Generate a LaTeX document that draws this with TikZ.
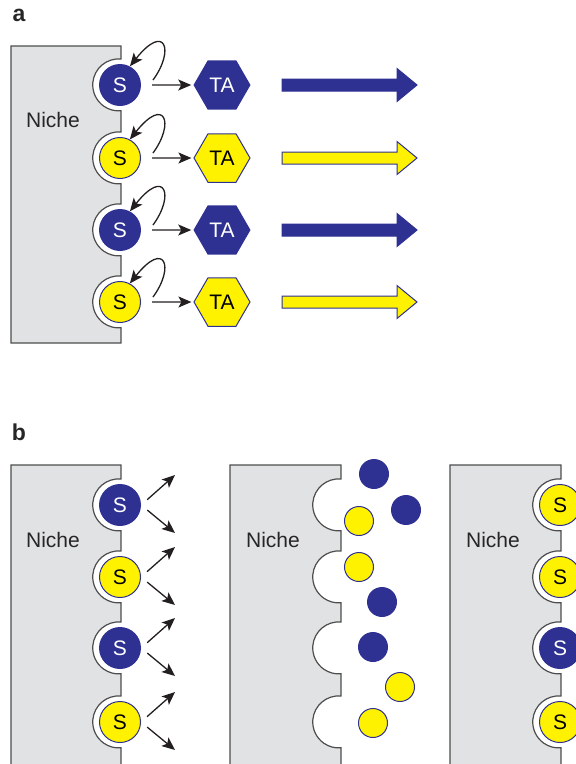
\documentclass[tikz,border=0pt]{standalone}
\usepackage{fontspec}
\setmainfont{Liberation Sans}
\usetikzlibrary{shapes.geometric,arrows.meta}
\definecolor{navy}{HTML}{2E3192}
\definecolor{cellyellow}{HTML}{FFF200}
\definecolor{nichegray}{HTML}{E1E2E4}
\definecolor{nicheline}{HTML}{4D4D4D}
\definecolor{arrowblack}{HTML}{231F20}
\newcommand\cellfont{\fontsize{21}{24}\selectfont}

\tikzset{
  niche/.style={fill=nichegray, draw=nicheline, line width=1.2pt},
  niche label/.style={font=\cellfont, text=black!85},
  panel label/.style={font=\fontsize{23}{26}\selectfont\bfseries, text=black!85},
  navy cell/.style={circle, fill=navy, text=white, minimum size=42pt, inner sep=0pt, font=\cellfont},
  yellow cell/.style={circle, fill=cellyellow, draw=navy, line width=1pt, text=black, minimum size=41pt, inner sep=0pt, font=\cellfont},
  navy free/.style={circle, fill=navy, minimum size=30pt, inner sep=0pt},
  yellow free/.style={circle, fill=cellyellow, draw=navy, line width=1pt, minimum size=29pt, inner sep=0pt},
  navy ta/.style={regular polygon, regular polygon sides=6, fill=navy, text=white, minimum size=57pt, inner sep=0pt, font=\cellfont},
  yellow ta/.style={regular polygon, regular polygon sides=6, fill=cellyellow, draw=navy, line width=1pt, text=black, minimum size=56pt, inner sep=0pt, font=\cellfont},
  navy arrow/.style={fill=navy, draw=navy, line width=1pt},
  yellow arrow/.style={fill=cellyellow, draw=navy, line width=1pt},
  tip/.style={draw=arrowblack, line width=1.3pt, -{Stealth[length=13pt,width=11pt,inset=3pt]}}
}

\begin{document}
\begin{tikzpicture}[x=1pt, y=-1pt]
  \useasboundingbox (0,0) rectangle (576,764);

  % panel a
  \node[panel label] (la) at (19,15) {a};
  \path[niche] (11,46) -- (121,46)
    \foreach \y in {85,158,230,302}{ -- (121,\y-26) arc[start angle=-85, end angle=-275, radius=26] }
    -- (121,343) -- (11,343) -- cycle;
  \node[niche label] (na) at (53,120) {Niche};
  \foreach \i/\y/\k in {1/85/navy, 2/158/yellow, 3/230/navy, 4/302/yellow} {
    \node[\k\space cell] (s\i) at (120,\y) {S};
    \node[\k\space ta] (ta\i) at (222,\y) {TA};
    \draw[tip, shorten <=11pt, shorten >=2pt] (s\i) -- (ta\i);
    \coordinate (r\i) at ([shift={(33,-5)}]s\i.center);
    \draw[tip] (r\i) .. controls +(22,-30) and +(35,-44) .. (s\i.62);
    \draw[\k\space arrow] (282,\y-6) -- (397,\y-6) -- (397,\y-16.5) -- (417,\y)
      -- (397,\y+16.5) -- (397,\y+6) -- (282,\y+6) -- cycle;
  }

  % panel b
  \node[panel label] (lb) at (19,432) {b};
  \path[niche] (11,780) -- (11,465) -- (121,465)
    \foreach \y in {505,577,648,722}{ -- (121,\y-26) arc[start angle=-85, end angle=-275, radius=26] }
    -- (121,780);
  \path[niche] (230,780) -- (230,465) -- (341,465)
    \foreach \y in {505,577,648,722}{ -- (341,\y-26) arc[start angle=-85, end angle=-275, radius=26] }
    -- (341,780);
  \path[niche] (450,780) -- (450,465) -- (561,465)
    \foreach \y in {505,577,648,722}{ -- (561,\y-26) arc[start angle=-85, end angle=-275, radius=26] }
    -- (561,780);
  \node[niche label] (nb1) at (53,540) {Niche};
  \node[niche label] (nb2) at (273,540) {Niche};
  \node[niche label] (nb3) at (493,540) {Niche};

  % symmetric division
  \foreach \i/\y/\k in {1/505/navy, 2/577/yellow, 3/648/navy, 4/722/yellow} {
    \node[\k\space cell] (b\i) at (120,\y) {S};
    \coordinate (up\i) at ([shift={(55,-30)}]b\i.center);
    \coordinate (dn\i) at ([shift={(55,28)}]b\i.center);
    \draw[tip, shorten <=8pt] (b\i.east) -- (up\i);
    \draw[tip, shorten <=8pt] (b\i.east) -- (dn\i);
  }

  % cells leaving the niche
  \foreach \i/\x/\y/\k in {1/374/474/navy, 2/406/510/navy, 3/359/521/yellow, 4/359/567/yellow,
                          5/382/602/navy, 6/373/647/navy, 7/400/687/yellow, 8/373/723/yellow}
    \node[\k\space free] (f\i) at (\x,\y) {};

  % niche refilled
  \foreach \i/\y/\k in {1/505/yellow, 2/577/yellow, 3/648/navy, 4/722/yellow}
    \node[\k\space cell] (c\i) at (560,\y) {S};
\end{tikzpicture}
\end{document}
